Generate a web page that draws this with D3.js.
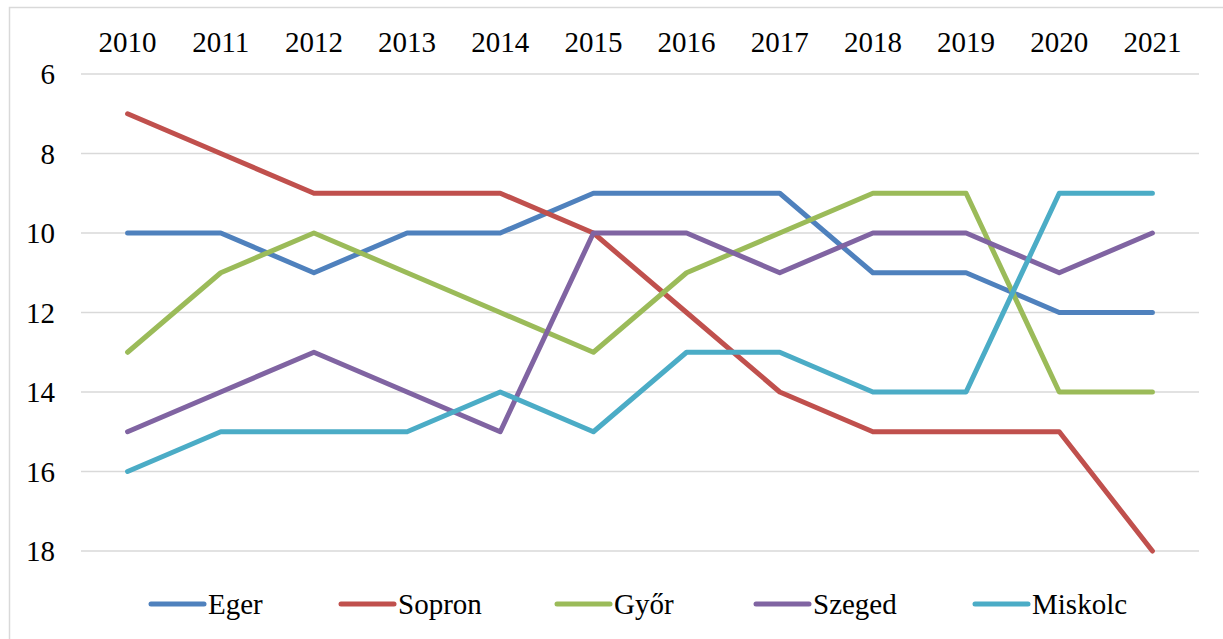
<!DOCTYPE html>
<html>
<head>
<meta charset="utf-8">
<script src="https://cdn.jsdelivr.net/npm/d3@7"></script>
</head>
<body style="margin:0">
<svg id="chart" width="1223" height="639"></svg>
<script>
// data
var years = ["2010","2011","2012","2013","2014","2015","2016","2017","2018","2019","2020","2021"];
var eger    = [10,10,11,10,10, 9, 9, 9,11,11,12,12];
var sopron  = [ 7, 8, 9, 9, 9,10,12,14,15,15,15,18];
var gyor    = [13,11,10,11,12,13,11,10, 9, 9,14,14];
var szeged  = [15,14,13,14,15,10,10,11,10,10,11,10];
var miskolc = [16,15,15,15,14,15,13,13,14,14, 9, 9];
var yTicks  = [6,8,10,12,14,16,18];

var seriesNames  = ["Eger","Sopron","Győr","Szeged","Miskolc"];
var seriesValues = [eger, sopron, gyor, szeged, miskolc];
var seriesColors = ["#4F81BD","#C0504D","#9BBB59","#8064A2","#4BACC6"];

var svg = d3.select("#chart");

// outer frame of the chart
svg.append("rect")
	.attr("x", 9.5).attr("y", 7.5)
	.attr("width", 1240).attr("height", 660)
	.attr("fill", "none").attr("stroke", "#d9d9d9").attr("stroke-width", 1.5);

var plotLeft = 81, plotRight = 1199;

var x = d3.scalePoint().domain(years).range([plotLeft, plotRight]).padding(0.5);
// reversed axis: small rank on top
var y = d3.scaleLinear().domain([6, 18]).range([74, 551]);

// gridlines
svg.append("g").selectAll("line")
	.data(yTicks)
	.enter().append("line")
	.attr("x1", plotLeft).attr("x2", plotRight)
	.attr("y1", function(d) { return y(d); })
	.attr("y2", function(d) { return y(d); })
	.attr("stroke", "#d9d9d9").attr("stroke-width", 1.5);

function label(sel) {
	sel.style("font-family", "'Liberation Serif'")
		.style("font-size", "29px")
		.attr("fill", "#000");
}

// y labels
svg.append("g").selectAll("text")
	.data(yTicks)
	.enter().append("text")
	.attr("x", 55)
	.attr("y", function(d) { return y(d) + 10; })
	.attr("text-anchor", "end")
	.call(label)
	.text(function(d) { return String(d); });

// x labels on top
svg.append("g").selectAll("text")
	.data(years)
	.enter().append("text")
	.attr("x", function(d) { return x(d); })
	.attr("y", 52)
	.attr("text-anchor", "middle")
	.call(label)
	.text(function(d) { return d; });

var line = d3.line()
	.x(function(d, i) { return x(years[i]); })
	.y(function(d) { return y(d); });

svg.append("g").selectAll("path")
	.data(seriesValues)
	.enter().append("path")
	.attr("d", line)
	.attr("fill", "none")
	.attr("stroke", function(d, i) { return seriesColors[i]; })
	.attr("stroke-width", 5)
	.attr("stroke-linejoin", "round")
	.attr("stroke-linecap", "round");

// legend
var legendX = [151, 341, 557, 756, 975];
var lg = svg.append("g").selectAll("g")
	.data(seriesNames)
	.enter().append("g")
	.attr("transform", function(d, i) { return "translate(" + legendX[i] + ",604)"; });

lg.append("line")
	.attr("x1", 0).attr("x2", 53)
	.attr("y1", 0).attr("y2", 0)
	.attr("stroke", function(d, i) { return seriesColors[i]; })
	.attr("stroke-width", 5)
	.attr("stroke-linecap", "round");

lg.append("text")
	.attr("x", 57)
	.attr("y", 10)
	.call(label)
	.text(function(d) { return d; });

// make sure the serif face is picked up once it is loaded
if (document.fonts && document.fonts.load) {
	document.fonts.load("29px 'Liberation Serif'").then(function () {
		svg.selectAll("text").style("font-family", "'Liberation Serif', serif");
	});
}
</script>
</body>
</html>
